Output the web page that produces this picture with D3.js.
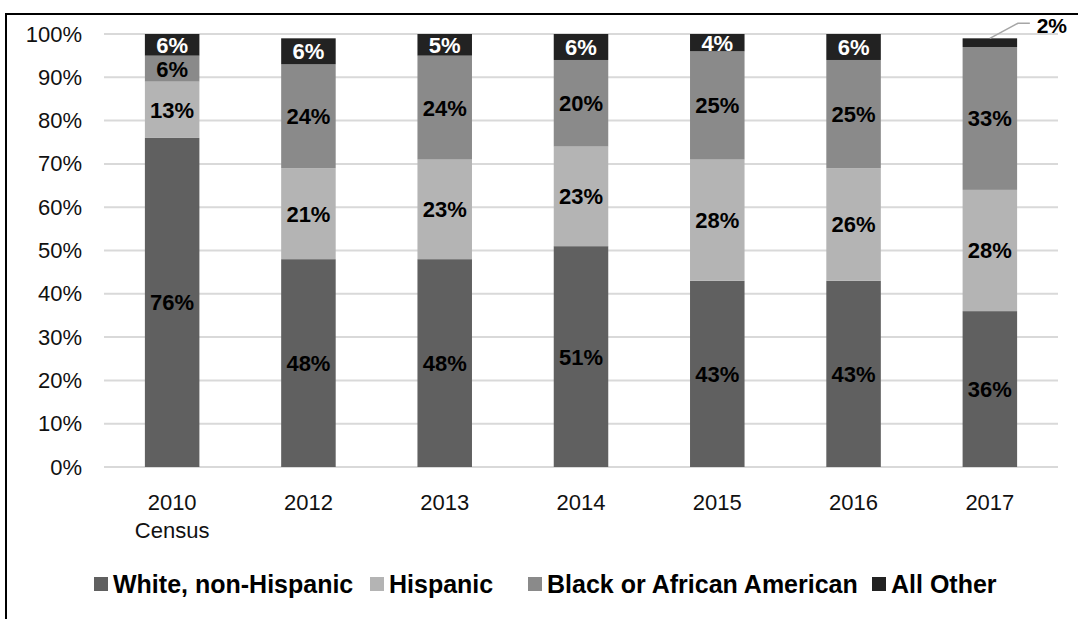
<!DOCTYPE html>
<html>
<head>
<meta charset="utf-8">
<script src="https://cdn.jsdelivr.net/npm/d3@7"></script>
<style>
  html, body { margin: 0; padding: 0; background: #fff; }
  svg { display: block; }
</style>
</head>
<body>
<svg id="chart" width="1078" height="619"></svg>
<script>
// ---- data ----
const categories = ["2010\nCensus", "2012", "2013", "2014", "2015", "2016", "2017"];
const seriesNames = ["White, non-Hispanic", "Hispanic", "Black or African American", "All Other"];
const white    = [76, 48, 48, 51, 43, 43, 36];
const hispanic = [13, 21, 23, 23, 28, 26, 28];
const black    = [6, 24, 24, 20, 25, 25, 33];
const other    = [6, 6, 5, 6, 4, 6, 2];
const yTicks = [0, 10, 20, 30, 40, 50, 60, 70, 80, 90, 100];

const colors = ["#606060", "#b4b4b4", "#8a8a8a", "#222222"];
const labelColors = ["#000", "#000", "#000", "#fff"];

const svg = d3.select("#chart");
const W = 1078, H = 619;
const tickFont = "Liberation Sans";

// frame lines
svg.append("line").attr("x1", 5).attr("x2", W).attr("y1", 14).attr("y2", 14)
  .attr("stroke", "#000").attr("stroke-width", 2);
svg.append("line").attr("x1", 6).attr("x2", 6).attr("y1", 13).attr("y2", H)
  .attr("stroke", "#000").attr("stroke-width", 2);

const x0 = 104, x1 = 1058, yTop = 34, yBot = 467;
const x = d3.scaleBand().domain(categories).range([x0, x1]).paddingInner(0.6).paddingOuter(0.3);
const y = d3.scaleLinear().domain([0, 100]).range([yBot, yTop]);

// gridlines
svg.append("g").selectAll("line").data(yTicks).join("line")
  .attr("x1", x0).attr("x2", x1)
  .attr("y1", d => y(d)).attr("y2", d => y(d))
  .attr("stroke", "#d9d9d9").attr("stroke-width", 2);

// y axis labels
const yAxis = d3.axisLeft(y).tickValues(yTicks).tickFormat(d => d + "%").tickSize(0).tickPadding(0);
const yg = svg.append("g").attr("transform", "translate(82,0)").call(yAxis);
yg.select(".domain").remove();
yg.selectAll("text").attr("font-family", tickFont).attr("font-size", 22).attr("fill", "#111");

// stacked data
const rows = categories.map((c, i) => ({ cat: c, s0: white[i], s1: hispanic[i], s2: black[i], s3: other[i] }));
const stack = d3.stack().keys(["s0", "s1", "s2", "s3"]);
const stacked = stack(rows);

const gBars = svg.append("g");
stacked.forEach((layer, k) => {
  gBars.selectAll(null).data(layer).join("rect")
    .attr("x", d => x(d.data.cat))
    .attr("width", x.bandwidth())
    .attr("y", d => y(Math.min(100, d[1])))
    .attr("height", d => y(d[0]) - y(Math.min(100, d[1])))
    .attr("fill", colors[k]);
});

// data labels
const gLab = svg.append("g").attr("font-family", "Liberation Sans").attr("font-weight", "bold")
  .attr("font-size", 22).attr("text-anchor", "middle");
stacked.forEach((layer, k) => {
  layer.forEach((d, i) => {
    const val = d.data["s" + k];
    const cx = x(d.data.cat) + x.bandwidth() / 2;
    if (k === 3 && val < 3) {
      // outside label with leader line
      const top = y(Math.min(100, d[1]));
      svg.append("polyline")
        .attr("points", `${cx},${top} ${cx + 28},${top - 15} ${cx + 40},${top - 15}`)
        .attr("fill", "none").attr("stroke", "#a6a6a6").attr("stroke-width", 1.5);
      gLab.append("text").attr("x", cx + 62).attr("y", top - 13).attr("dy", "0.36em")
        .attr("font-size", 21).attr("fill", "#000").text(val + "%");
      return;
    }
    const mid = (y(d[0]) + y(Math.min(100, d[1]))) / 2;
    gLab.append("text").attr("x", cx).attr("y", mid).attr("dy", "0.36em")
      .attr("fill", labelColors[k]).text(val + "%");
  });
});

// x axis labels
const gx = svg.append("g").attr("font-family", tickFont).attr("font-size", 22)
  .attr("fill", "#111").attr("text-anchor", "middle");
categories.forEach(c => {
  const lines = c.split("\n");
  const t = gx.append("text").attr("x", x(c) + x.bandwidth() / 2).attr("y", 510);
  lines.forEach((ln, j) => {
    t.append("tspan").attr("x", x(c) + x.bandwidth() / 2).attr("dy", j === 0 ? 0 : 28).text(ln);
  });
});

// legend
const legendX = [94, 370, 528, 872];
const gLeg = svg.append("g");
seriesNames.forEach((n, k) => {
  gLeg.append("rect").attr("x", legendX[k]).attr("y", 577).attr("width", 14).attr("height", 14)
    .attr("fill", colors[k]);
  gLeg.append("text").attr("x", legendX[k] + 19).attr("y", 584).attr("dy", "0.36em")
    .attr("font-family", "Liberation Sans").attr("font-weight", "bold").attr("font-size", 25)
    .attr("fill", "#000").text(n);
});
</script>
</body>
</html>
